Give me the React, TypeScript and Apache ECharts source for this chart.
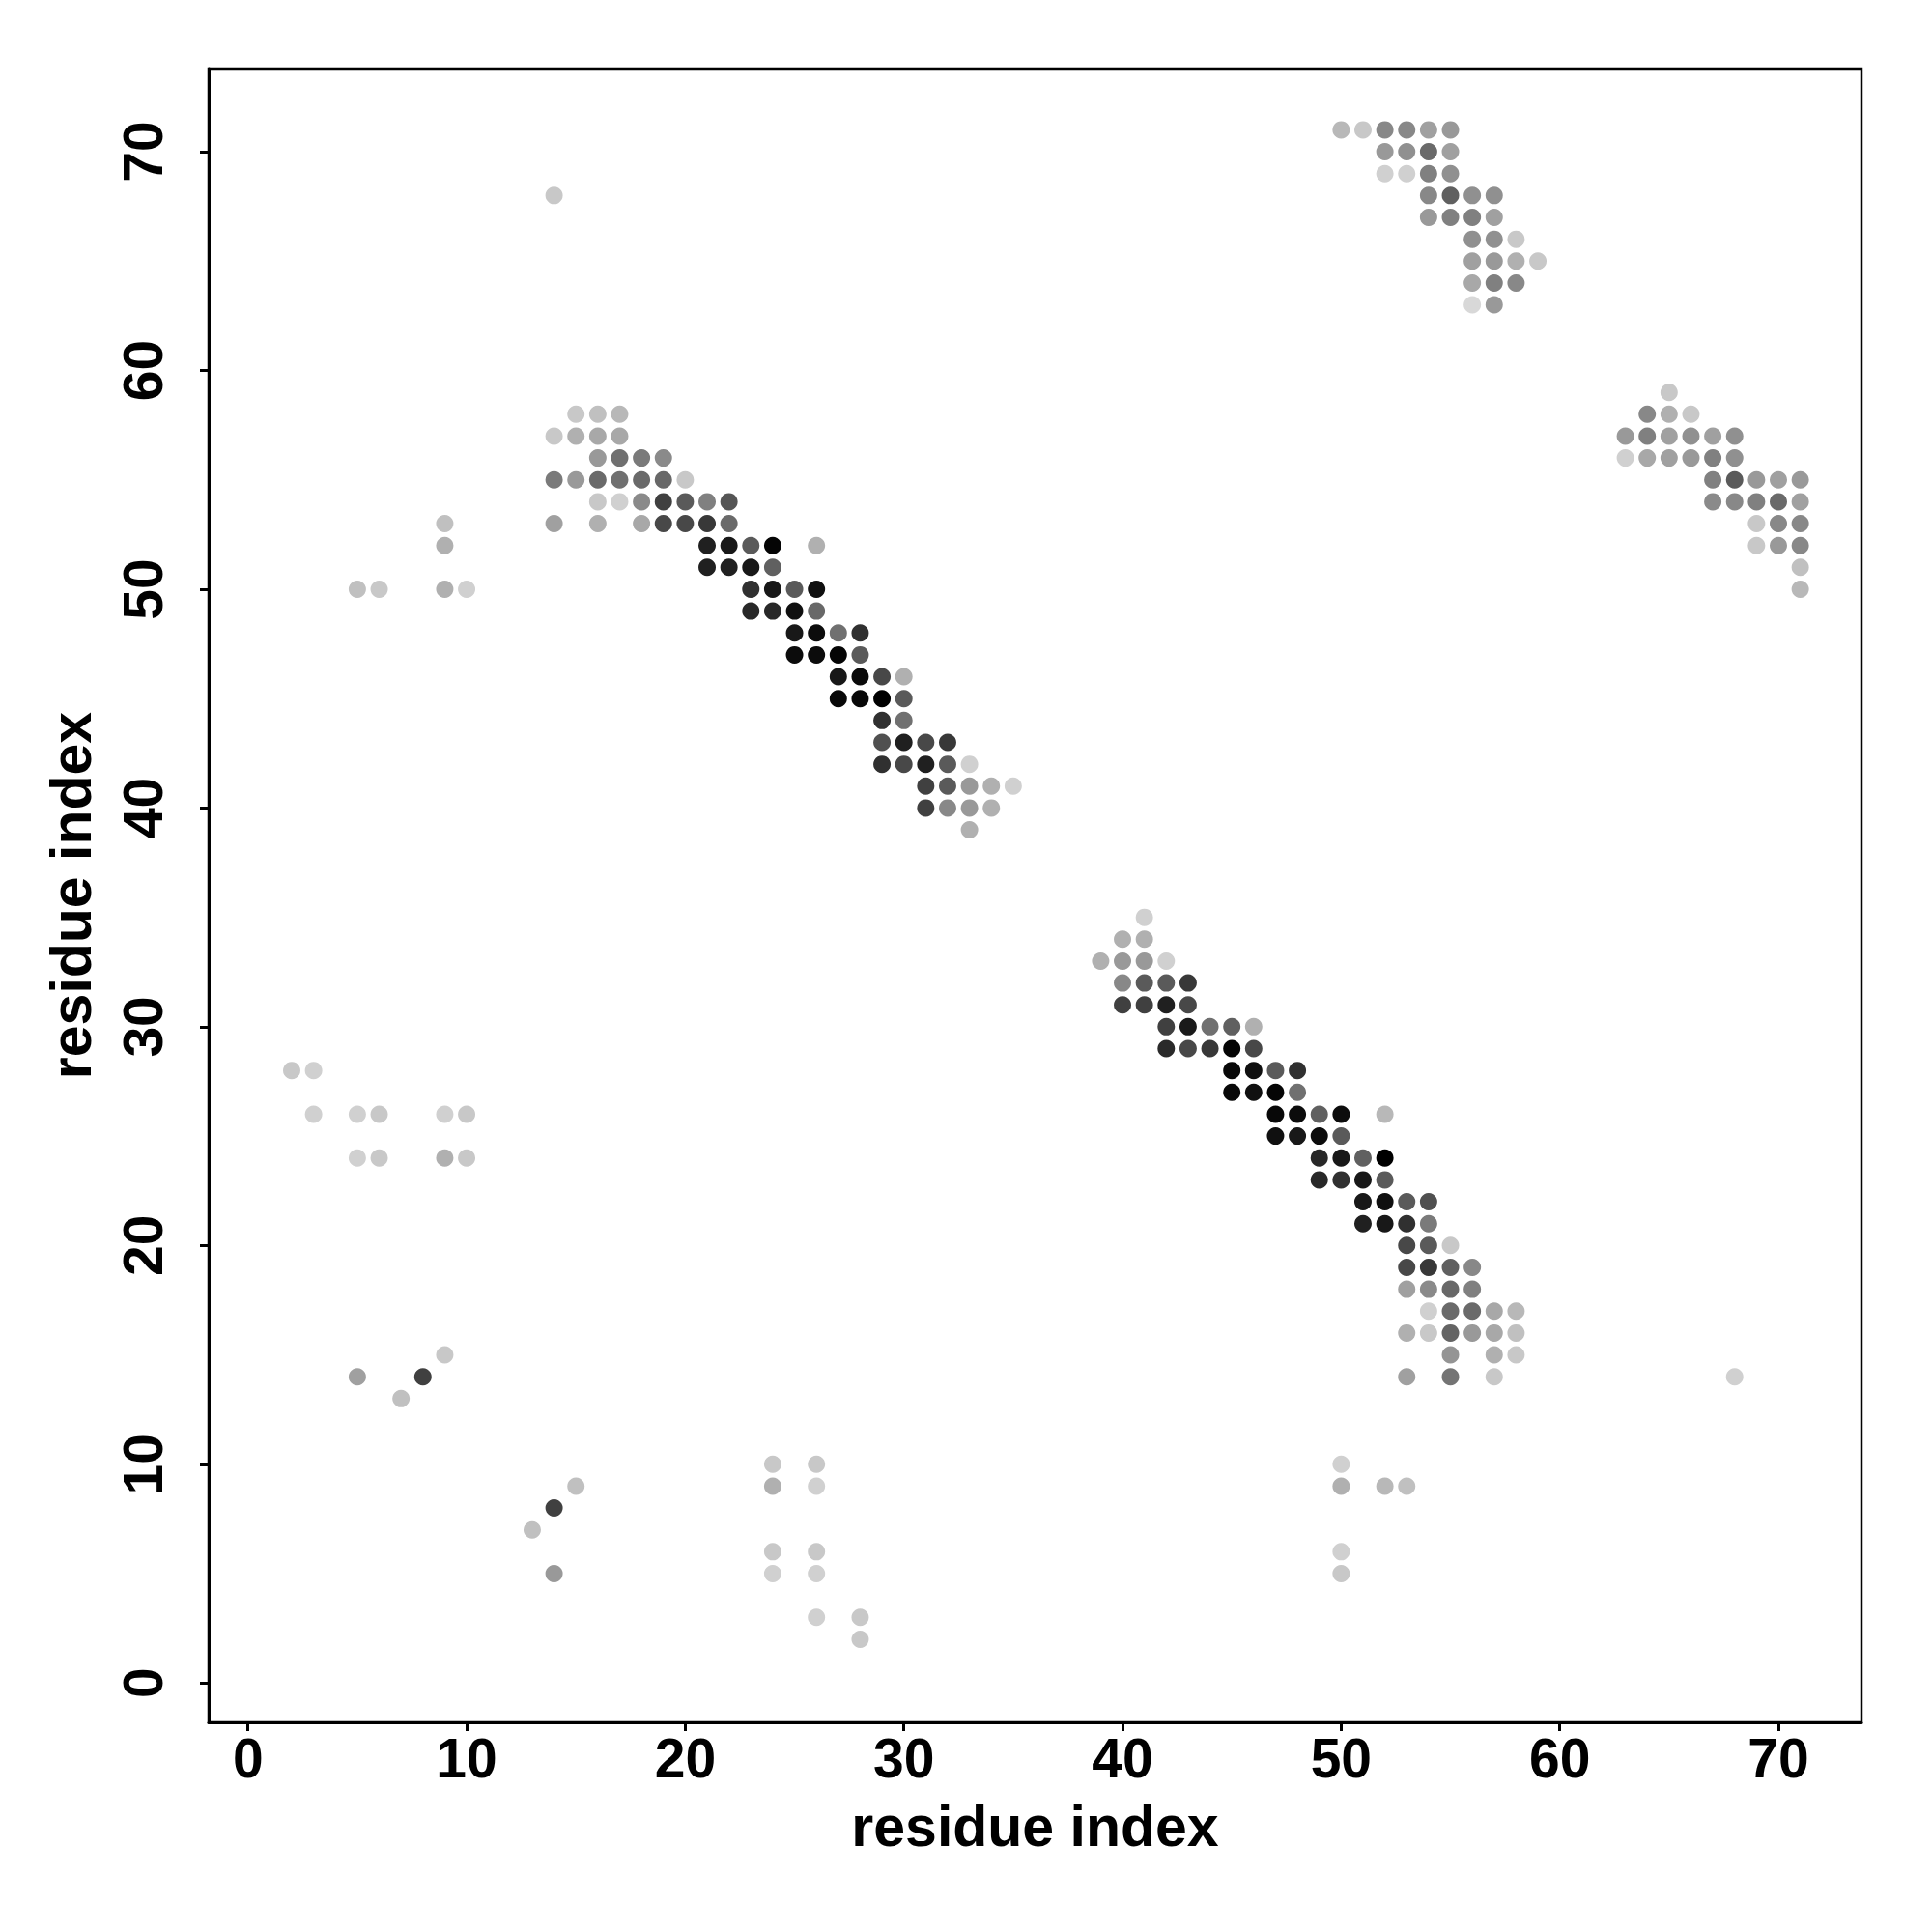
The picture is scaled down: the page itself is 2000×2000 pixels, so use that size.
import React, { useEffect, useRef } from "react";
import * as echarts from "echarts";

// [x, y, gray level 0..255]
const upperBand: number[][] = [
  [15,58,200],[16,58,192],[17,58,184],
  [14,57,200],[15,57,176],[16,57,168],[17,57,168],
  [16,56,153],[17,56,112],[18,56,122],[19,56,138],
  [14,55,122],[15,55,153],[16,55,106],[17,55,112],[18,55,106],[19,55,104],[20,55,200],
  [16,54,200],[17,54,208],[18,54,138],[19,54,64],[20,54,90],[21,54,128],[22,54,85],
  [14,53,160],[16,53,176],[18,53,168],[19,53,72],[20,53,72],[21,53,56],[22,53,106],
  [21,52,32],[22,52,24],[23,52,90],[24,52,5],[26,52,176],
  [21,51,32],[22,51,32],[23,51,24],[24,51,96],
  [23,50,48],[24,50,24],[25,50,90],[26,50,16],
  [23,49,40],[24,49,40],[25,49,16],[26,49,104],
  [25,48,24],[26,48,12],[27,48,112],[28,48,48],
  [25,47,12],[26,47,12],[27,47,5],[28,47,90],
  [27,46,24],[28,46,10],[29,46,72],[30,46,176],
  [27,45,8],[28,45,8],[29,45,0],[30,45,90],
  [29,44,48],[30,44,112],
  [29,43,80],[30,43,32],[31,43,72],[32,43,56],
  [29,42,48],[30,42,72],[31,42,32],[32,42,90],[33,42,208],
  [31,41,64],[32,41,90],[33,41,153],[34,41,176],[35,41,208],
  [31,40,64],[32,40,136],[33,40,153],[34,40,176],
  [33,39,176],
];

const lowerBand: number[][] = [
  [41,35,208],
  [40,34,176],[41,34,176],
  [39,33,176],[40,33,153],[41,33,153],[42,33,208],
  [40,32,136],[41,32,90],[42,32,90],[43,32,56],
  [40,31,64],[41,31,64],[42,31,32],[43,31,72],
  [42,30,64],[43,30,26],[44,30,112],[45,30,96],[46,30,176],
  [42,29,42],[43,29,72],[44,29,56],[45,29,5],[46,29,72],
  [45,28,8],[46,28,16],[47,28,90],[48,28,48],
  [45,27,8],[46,27,16],[47,27,5],[48,27,112],
  [47,26,8],[48,26,12],[49,26,96],[50,26,12],[52,26,184],
  [47,25,16],[48,25,24],[49,25,12],[50,25,90],
  [49,24,40],[50,24,24],[51,24,96],[52,24,0],
  [49,23,40],[50,23,48],[51,23,24],[52,23,90],
  [51,22,24],[52,22,16],[53,22,90],[54,22,80],
  [51,21,32],[52,21,24],[53,21,48],[54,21,122],
  [53,20,72],[54,20,90],[55,20,200],
  [53,19,72],[54,19,56],[55,19,96],[56,19,136],
  [53,18,160],[54,18,138],[55,18,104],[56,18,128],
  [54,17,208],[55,17,106],[56,17,106],[57,17,168],[58,17,184],
  [53,16,176],[54,16,200],[55,16,100],[56,16,153],[57,16,168],[58,16,192],
  [55,15,148],[57,15,176],[58,15,200],
  [53,14,160],[55,14,116],[57,14,200],
];

const topRight: number[][] = [
  [50,71,184],[51,71,200],[52,71,136],[53,71,136],[54,71,160],[55,71,153],
  [52,70,153],[53,70,144],[54,70,106],[55,70,160],
  [52,69,208],[53,69,208],[54,69,128],[55,69,144],
  [54,68,136],[55,68,96],[56,68,144],[57,68,144],
  [54,67,153],[55,67,128],[56,67,128],[57,67,160],
  [56,66,144],[57,66,144],[58,66,200],
  [56,65,160],[57,65,153],[58,65,176],[59,65,200],
  [56,64,168],[57,64,128],[58,64,136],
  [56,63,216],[57,63,153],
];

const rightBlock: number[][] = [
  [65,59,200],
  [64,58,136],[65,58,176],[66,58,200],
  [63,57,153],[64,57,128],[65,57,160],[66,57,144],[67,57,160],[68,57,144],
  [63,56,208],[64,56,168],[65,56,160],[66,56,153],[67,56,128],[68,56,144],
  [67,55,128],[68,55,90],[69,55,153],[70,55,160],[71,55,153],
  [67,54,138],[68,54,136],[69,54,128],[70,54,106],[71,54,160],
  [69,53,200],[70,53,136],[71,53,136],
  [69,52,200],[70,52,153],[71,52,136],
  [71,51,192],
  [71,50,184],
];

const scattered: number[][] = [
  [14,68,200],[9,53,192],[9,52,176],[5,50,192],[6,50,200],[9,50,176],[10,50,208],
  [2,28,200],[3,28,208],[3,26,208],[5,26,208],[6,26,200],[9,26,208],[10,26,200],
  [5,24,208],[6,24,200],[9,24,176],[10,24,200],
  [9,15,200],[5,14,160],[8,14,64],[7,13,192],
  [15,9,192],[14,8,64],[13,7,192],[14,5,153],
  [24,10,200],[24,9,176],[24,6,200],[24,5,208],[26,10,200],[26,9,208],[26,6,200],[26,5,208],
  [26,3,208],[28,3,200],[28,2,200],
  [50,10,208],[50,9,176],[52,9,184],[53,9,192],[50,6,208],[50,5,200],[68,14,208],
];

const tickValues = [0, 10, 20, 30, 40, 50, 60, 70];
const axisTitle = "residue index";

const FONT = "'Liberation Sans', Arial, Helvetica, sans-serif";

export default function App() {
  const ref = useRef<HTMLDivElement>(null);
  useEffect(() => {
    document.body.style.margin = "0";
    if (!ref.current) return;
    const chart = echarts.init(ref.current, undefined, { renderer: "svg" });
    const allPoints = [...upperBand, ...lowerBand, ...topRight, ...rightBlock, ...scattered];
    const axisCommon = (isY: boolean) => ({
      type: "value" as const,
      min: -1.8,
      max: 73.8,
      name: axisTitle,
      nameLocation: "middle" as const,
      nameGap: isY ? 113 : 78,
      nameTextStyle: { fontFamily: FONT, fontWeight: "bold", fontSize: 59, color: "#000" },
      axisLine: { show: true, onZero: false, lineStyle: { color: "#000", width: 3 } },
      axisTick: { show: true, customValues: tickValues, length: 9, lineStyle: { color: "#000", width: 3 } },
      axisLabel: {
        customValues: tickValues,
        fontFamily: FONT,
        fontWeight: "bold",
        fontSize: 57,
        color: "#000",
        margin: isY ? 40 : 8,
        rotate: isY ? 90 : 0,
      },
      splitLine: { show: false },
    });
    chart.setOption({
      animation: false,
      backgroundColor: "#fff",
      grid: { left: 216, right: 73, top: 71, bottom: 217, show: true, borderColor: "#000", borderWidth: 2.5 },
      xAxis: axisCommon(false),
      yAxis: axisCommon(true),
      series: [
        {
          type: "scatter",
          symbol: "circle",
          symbolSize: 18,
          data: allPoints,
          itemStyle: {
            opacity: 1,
            color: (p: any) => {
              const g = p.value[2];
              return `rgb(${g},${g},${g})`;
            },
          },
        },
      ],
    });
    return () => chart.dispose();
  }, []);
  return <div ref={ref} style={{ width: 2000, height: 2000 }} />;
}
